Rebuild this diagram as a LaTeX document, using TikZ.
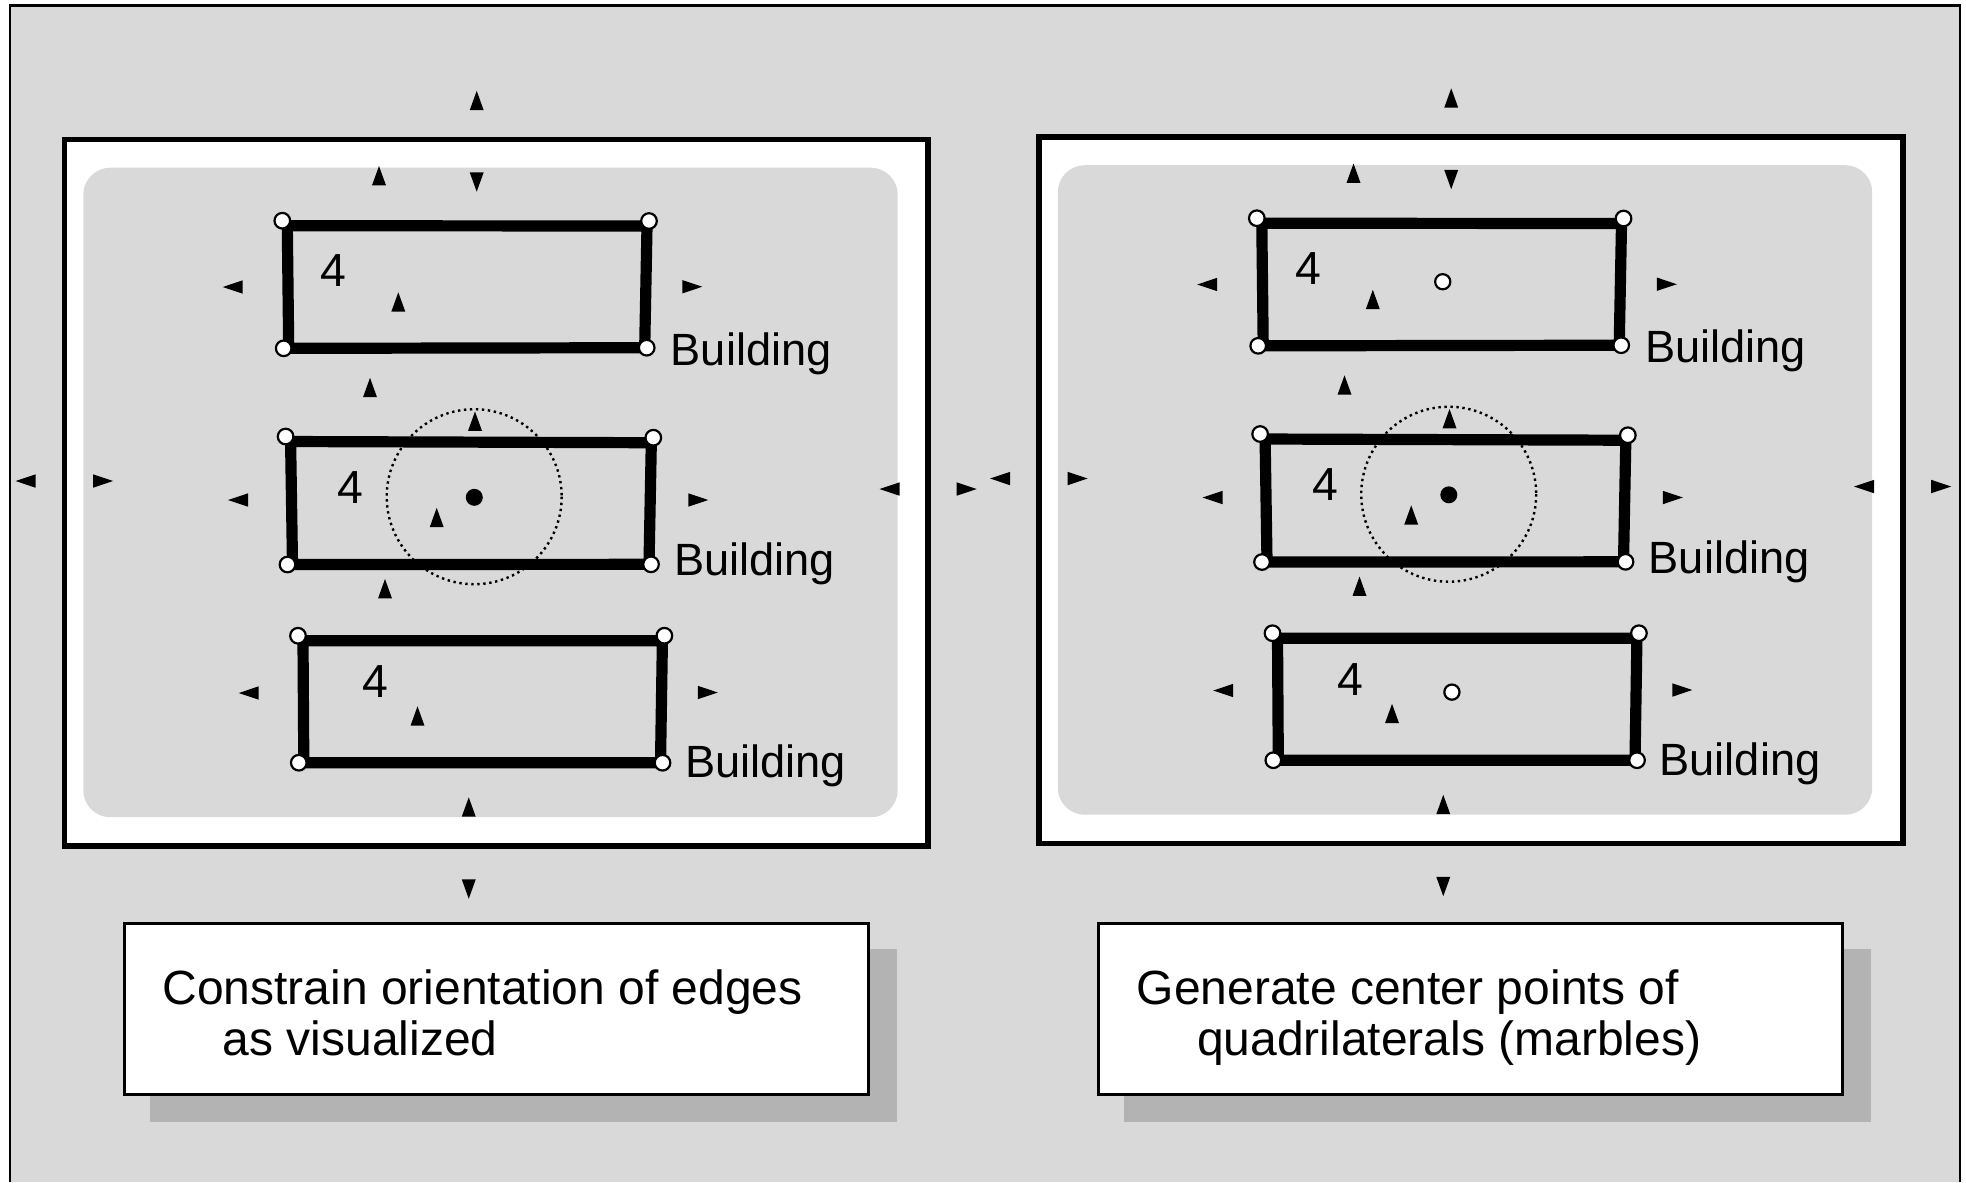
\documentclass[tikz,border=0pt]{standalone}
\usepackage{fontspec}
\setmainfont{Liberation Sans}
\definecolor{bggray}{RGB}{217,217,217}
\definecolor{shadowgray}{RGB}{179,179,179}
\newcommand\triUp[2]{\fill (#1-7,#2+9.7) -- (#1,#2-9.7) -- (#1+7,#2+9.7) -- cycle;}
\newcommand\triDn[2]{\fill (#1-7,#2-9.7) -- (#1,#2+9.7) -- (#1+7,#2-9.7) -- cycle;}
\newcommand\triLf[2]{\fill (#1+10,#2-6.7) -- (#1-10,#2) -- (#1+10,#2+6.7) -- cycle;}
\newcommand\triRt[2]{\fill (#1-10,#2-6.7) -- (#1+10,#2) -- (#1-10,#2+6.7) -- cycle;}
\newcommand\bldg[9]{%
  \draw[bline] (#2+5,#3+5) -- (#4-2,#5+5) -- (#6-2,#7) -- (#8+5,#9) -- cycle;
  \node[corner] (#1-a) at (#2,#3) {};
  \node[corner] (#1-b) at (#4,#5) {};
  \node[corner] (#1-c) at (#6,#7) {};
  \node[corner] (#1-d) at (#8,#9) {};
}
\newcommand\panel[1]{%
  \draw[frame] (64.5,139.5) rectangle (928.2,846);
  \fill[bggray, rounded corners=6.75pt] (83.3,167.7) rectangle (897.7,817.2);
  \draw[dotc] (474.2,496.7) circle[radius=87.5];
  \bldg{#1-b1}{282.3}{220.7}{649}{221}{646.7}{347.7}{283.7}{348.3}
  \bldg{#1-b2}{285.6}{436.5}{653.3}{437.7}{651}{564.3}{287.5}{564.5}
  \bldg{#1-b3}{298}{635.7}{664.4}{635.7}{662.5}{762.7}{298.8}{762.7}
  \fill (474.3,497.3) circle[radius=8.5];
  \node[num] (#1-n1) at (333.7,270.7) {4};
  \node[num] (#1-n2) at (350.7,487.5) {4};
  \node[num] (#1-n3) at (375.6,681.7) {4};
  \node[lbl] (#1-l1) at (670,365) {Building};
  \node[lbl] (#1-l2) at (673.4,575.7) {Building};
  \node[lbl] (#1-l3) at (684.2,777.7) {Building};
  \triUp{476.7}{100.5}
  \triUp{379}{175.7}
  \triDn{476.7}{182}
  \triUp{398.3}{302}
  \triUp{370}{387.5}
  \triUp{475}{421.2}
  \triUp{436.7}{517.5}
  \triUp{385}{588.7}
  \triUp{417.5}{716}
  \triUp{468.75}{807}
  \triDn{468.75}{889}
  \triLf{232.7}{287}
  \triLf{238}{500}
  \triLf{248.7}{693}
  \triLf{25.6}{481}
  \triLf{889.5}{489}
  \triRt{692.3}{286.7}
  \triRt{698.3}{500}
  \triRt{707.8}{692.5}
  \triRt{103.1}{481}
  \triRt{966.7}{489}
}
\begin{document}
\begin{tikzpicture}[x=0.25pt,y=-0.25pt,
  frame/.style={draw, fill=white, line width=1.4pt},
  bline/.style={line width=2.8pt},
  corner/.style={circle, draw, fill=white, line width=0.55pt, inner sep=0pt, minimum size=3.9pt},
  dotc/.style={line width=0.6pt, dash pattern=on 0.6pt off 0.9pt},
  num/.style={font=\fontsize{11.6}{13}\selectfont, inner sep=0pt},
  lbl/.style={font=\fontsize{11.3}{13}\selectfont, inner sep=0pt, anchor=base west},
  captext/.style={font=\fontsize{12.0}{14}\selectfont, inner sep=0pt, anchor=base west},
  capbox/.style={draw, fill=white, line width=0.75pt},
  marble/.style={circle, draw, fill=white, line width=0.55pt, inner sep=0pt, minimum size=3.8pt}]
\useasboundingbox (0,0) rectangle (1966,1182);
\fill[white] (0,0) rectangle (1966,1182);
\fill[bggray] (10,5.5) rectangle (1960,1182);
\draw[line width=0.6pt] (10,1182) -- (10,5.5) -- (1960,5.5) -- (1960,1182);
% left panel
\begin{scope}
  \panel{L}
\end{scope}
% right panel
\begin{scope}[shift={(974.5,-2.5)}]
  \panel{R}
\end{scope}
\node[marble] (R-m1) at (1442.7,281.7) {};
\node[marble] (R-m3) at (1451.9,692.1) {};
% captions
\fill[shadowgray] (150,949) rectangle (897,1122);
\draw[capbox] (124,923) rectangle (868.5,1094);
\node[captext] (L-c1) at (161.6,1004.3) {Constrain orientation of edges};
\node[captext] (L-c2) at (222,1055.7) {as visualized};
\fill[shadowgray] (1124.4,949) rectangle (1871.4,1122);
\draw[capbox] (1098.4,923) rectangle (1842.9,1094);
\node[captext] (R-c1) at (1136,1004.3) {Generate center points of};
\node[captext] (R-c2) at (1196.4,1055.7) {quadrilaterals (marbles)};
\end{tikzpicture}
\end{document}
